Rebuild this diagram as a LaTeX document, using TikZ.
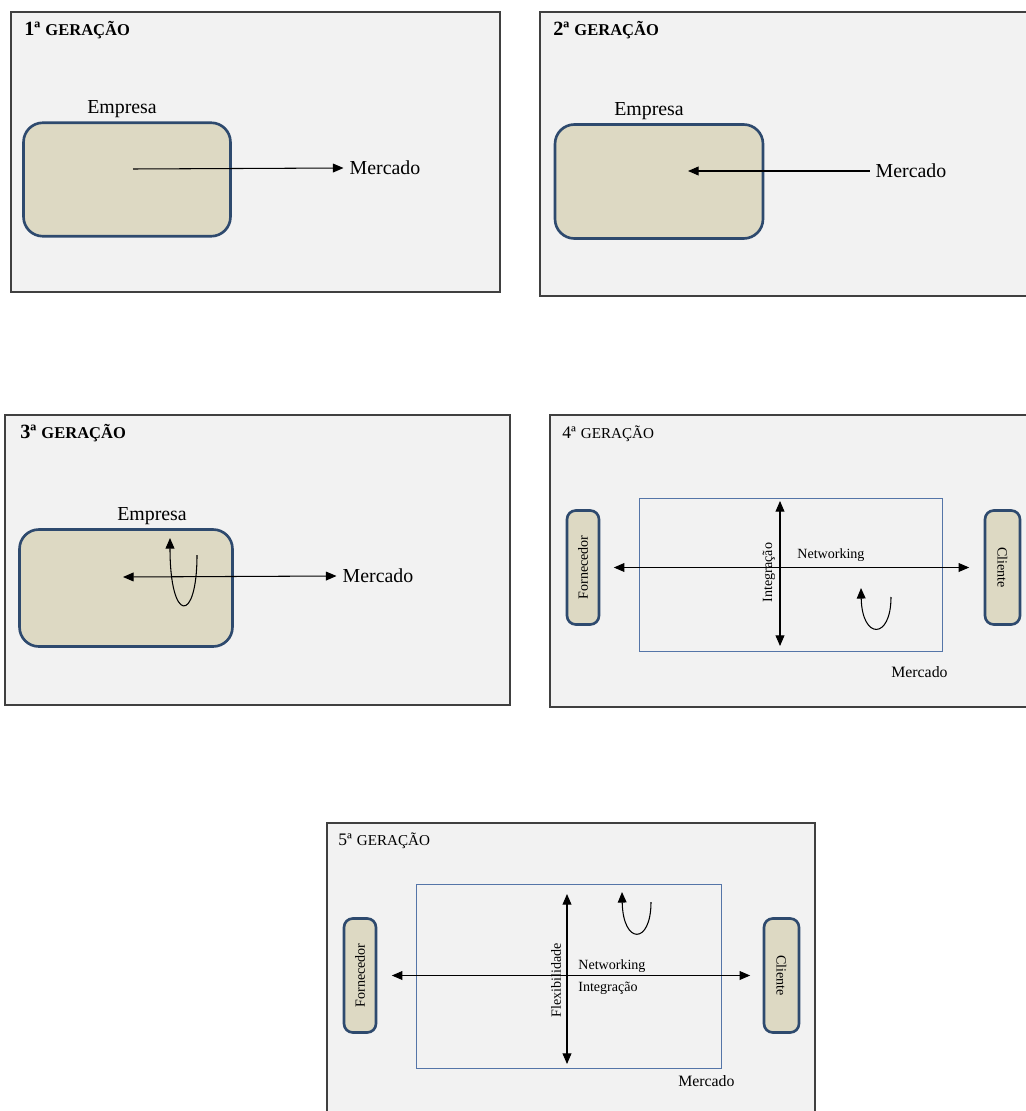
\documentclass[tikz,border=0pt]{standalone}
\usepackage{fontspec}
\setmainfont{Liberation Serif}
\usetikzlibrary{arrows.meta}

\definecolor{fundo}{HTML}{F2F2F2}
\definecolor{borda}{HTML}{404040}
\definecolor{caixa}{HTML}{DDD9C3}
\definecolor{azulesc}{HTML}{2E4A6E}
\definecolor{azulcl}{HTML}{5575A8}

\newcommand{\gernegrito}[1]{\textbf{{\fontsize{11.5}{13}\selectfont #1ª} {\fontsize{9.4}{11}\selectfont GERAÇÃO}}}
\newcommand{\gerfina}[1]{{\fontsize{10}{12}\selectfont #1ª} {\fontsize{8.6}{10}\selectfont GERAÇÃO}}

\tikzset{
  painel/.style={draw=borda, fill=fundo, line width=0.6pt},
  empresa/.style={draw=azulesc, fill=caixa, line width=1.5pt, rounded corners=11pt},
  ator/.style={draw=azulesc, fill=caixa, line width=1.5pt, rounded corners=5pt,
    minimum height=2.28cm, inner sep=0pt, font=\fontsize{8}{9.6}\selectfont},
  mercado/.style={draw=azulcl, line width=0.5pt},
  seta/.style={-{Triangle[length=6pt,width=5pt]}, line width=0.6pt},
  setadupla/.style={{Triangle[length=6pt,width=5pt]}-{Triangle[length=6pt,width=5pt]}, line width=0.6pt},
  pequeno/.style={font=\fontsize{8}{9.6}\selectfont},
}

\begin{document}
\begin{tikzpicture}[x=0.02cm, y=-0.02cm, font=\fontsize{11.3}{13}\selectfont]
    \clip (0,0) rectangle (1026,1111);

    % 1ª geração
    \draw[painel] (11,12) rectangle (500,292);
    \node[anchor=base west, inner sep=0pt] (g1) at (24,35.5) {\gernegrito{1}};
    \node[empresa, minimum width=4.14cm, minimum height=2.27cm] (emp1) at (127,179.5) {};
    \node (te1) at (122,109) {Empresa};
    \coordinate (o1) at (133,169);
    \node[anchor=west] (m1) at (343.5,168) {Mercado};
    \draw[seta] (o1) -- (m1.west);

    % 2ª geração
    \draw[painel] (540,12) rectangle (1040,296);
    \node[anchor=base west, inner sep=0pt] (g2) at (553,35.5) {\gernegrito{2}};
    \node[empresa, minimum width=4.16cm, minimum height=2.28cm] (emp2) at (659,181.5) {};
    \node (te2) at (649,111) {Empresa};
    \coordinate (o2) at (688,171);
    \node[anchor=west] (m2) at (869.5,171) {Mercado};
    \draw[seta] (m2.west) -- (o2);

    % 3ª geração
    \draw[painel] (5,415) rectangle (510,705);
    \node[anchor=base west, inner sep=0pt] (g3) at (20,438) {\gernegrito{3}};
    \node[empresa, minimum width=4.26cm, minimum height=2.34cm] (emp3) at (126,588) {};
    \node (te3) at (152,516) {Empresa};
    \coordinate (o3) at (123,577);
    \node[anchor=west] (m3) at (336.5,576) {Mercado};
    \draw[setadupla] (o3) -- (m3.west);
    \coordinate (u3a) at (197,555);
    \coordinate (u3b) at (170,538);
    \draw[seta] (u3a) .. controls (197,624) and (170,624) .. (u3b);

    % 4ª geração
    \draw[painel] (550,415) rectangle (1040,707);
    \node[anchor=base west, inner sep=0pt] (g4) at (562,438) {\gerfina{4}};
    \draw[mercado] (639,498) rectangle (942,651);
    \node[ator, minimum width=0.64cm] (f4) at (583,567.5) {\rotatebox{90}{Fornecedor}};
    \node[ator, minimum width=0.7cm] (c4) at (1002.5,567.5) {\rotatebox{-90}{Cliente}};
    \draw[setadupla, shorten <=0.27cm, shorten >=0.29cm] (f4.east) -- (c4.west);
    \coordinate (v4a) at (780,501);
    \coordinate (v4b) at (780,646);
    \draw[setadupla] (v4a) -- (v4b);
    \node[pequeno, rotate=90, inner sep=0pt] (i4) at (769,572.5) {Integração};
    \node[pequeno, anchor=west, inner sep=0pt] (n4) at (797,555) {Networking};
    \coordinate (u4a) at (891,597);
    \coordinate (u4b) at (861,588);
    \draw[seta] (u4a) .. controls (891,640) and (862,640) .. (u4b);
    \node[anchor=west, inner sep=0pt, font=\fontsize{9}{11}\selectfont] (m4) at (891,672) {Mercado};

    % 5ª geração
    \draw[painel] (327,823) rectangle (815,1130);
    \node[anchor=base west, inner sep=0pt] (g5) at (338,845) {\gerfina{5}};
    \draw[mercado] (416,884) rectangle (721,1068);
    \node[ator, minimum width=0.64cm] (f5) at (360,975.5) {\rotatebox{90}{Fornecedor}};
    \node[ator, minimum width=0.7cm] (c5) at (781.5,975.5) {\rotatebox{-90}{Cliente}};
    \draw[setadupla, shorten <=0.29cm, shorten >=0.25cm] (f5.east) -- (c5.west);
    \coordinate (v5a) at (567,894);
    \coordinate (v5b) at (567,1064);
    \draw[setadupla] (v5a) -- (v5b);
    \node[pequeno, rotate=90, inner sep=0pt] (fl5) at (556,980.5) {Flexibilidade};
    \node[pequeno, anchor=west, inner sep=0pt] (n5) at (578,966) {Networking};
    \node[pequeno, anchor=west, inner sep=0pt] (i5) at (578,988) {Integração};
    \coordinate (u5a) at (651,902);
    \coordinate (u5b) at (622,892);
    \draw[seta] (u5a) .. controls (651,945) and (623,945) .. (u5b);
    \node[anchor=west, inner sep=0pt, font=\fontsize{9}{11}\selectfont] (m5) at (678,1081) {Mercado};
\end{tikzpicture}
\end{document}
